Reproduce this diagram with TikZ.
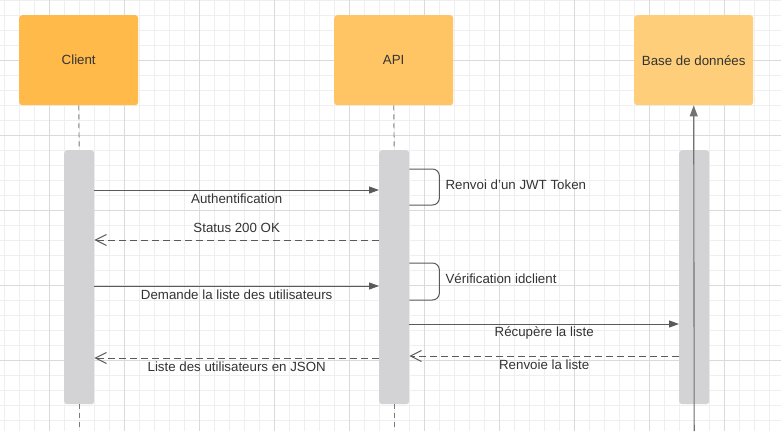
\documentclass[tikz,border=0pt]{standalone}
\usepackage{fontspec}
\setmainfont{Liberation Sans}
\usetikzlibrary{arrows.meta}
\definecolor{gminor}{HTML}{EFEFEF}
\definecolor{gmajor}{HTML}{DADADA}
\definecolor{cclient}{HTML}{FFBA4A}
\definecolor{capi}{HTML}{FFC564}
\definecolor{cdb}{HTML}{FFCE7A}
\definecolor{cbar}{HTML}{D3D3D5}
\definecolor{cline}{HTML}{5A5A5A}
\definecolor{ctext}{HTML}{333333}
\begin{document}
\begin{tikzpicture}[x=1bp,y=-1bp,
  every node/.style={font=\fontsize{13.3bp}{16bp}\selectfont, text=ctext},
  actor/.style={rounded corners=3bp, minimum width=119bp, minimum height=90bp, inner sep=0pt, anchor=north west},
  actbar/.style={fill=cbar, draw=none, rounded corners=3bp, minimum width=30bp, minimum height=254bp, inner sep=0pt, anchor=north west},
  life/.style={draw=cline!80, line width=0.9bp, dash pattern=on 5bp off 4bp},
  msg/.style={draw=cline, line width=1bp, -{Triangle[length=10bp,width=7bp]}},
  reply/.style={draw=cline, line width=1bp, dash pattern=on 7bp off 4bp, -{Straight Barb[length=11bp,width=11bp]}},
  selfloop/.style={draw=cline, line width=1bp, rounded corners=7bp},
  lbl/.style={inner sep=0pt}
]
\useasboundingbox (0,0) rectangle (781,431);
\fill[white] (0,0) rectangle (781,431);
\foreach \x in {4,19,...,781} \draw[gminor, line width=0.6bp] (\x,0) -- (\x,431);
\foreach \y in {0,15,...,431} \draw[gminor, line width=0.6bp] (0,\y) -- (781,\y);
\foreach \x in {49,124,...,781} \draw[gmajor, line width=0.7bp] (\x,0) -- (\x,431);
\foreach \y in {60,135,...,431} \draw[gmajor, line width=0.7bp] (0,\y) -- (781,\y);

\coordinate (bot) at (0,431);

\node[actor, fill=cclient] (client) at (19,15) {Client};
\node[actor, fill=capi] (api) at (334,15) {API};
\node[actor, fill=cdb] (db) at (634,15) {Base de données};

\node[actbar] (cb) at (64,150) {};
\node[actbar] (ab) at (379,150) {};
\node[actbar] (dbb) at (679,150) {};

\draw[life] (client.south) -- (cb.north);
\draw[life] (cb.south) -- (cb.south |- bot);
\draw[life] (api.south) -- (ab.north);
\draw[life] (ab.south) -- (ab.south |- bot);
\draw[draw=cline!85, line width=1.1bp, -{Triangle[length=11bp,width=8bp]}] (dbb.south |- bot) -- (db.south);

% Authentification
\draw[msg] ([yshift=-40bp]cb.north east) -- ([yshift=-40bp]ab.north west)
  node[lbl, midway, yshift=-9bp] (l1) {Authentification};
% Self loop 1
\draw[selfloop] ([yshift=-19bp]ab.north east) -- ++(30,0) -- ++(0,36) -- ([yshift=-55bp]ab.north east);
\node[lbl, anchor=west] (l2) at ([xshift=36bp,yshift=-35bp]ab.north east) {Renvoi d\symbol{39}un JWT Token};
% Status 200 OK
\draw[reply] ([yshift=-90bp]ab.north west) -- ([yshift=-90bp]cb.north east)
  node[lbl, midway, yshift=12bp] (l3) {Status 200 OK};
% Self loop 2
\draw[selfloop] ([yshift=-113bp]ab.north east) -- ++(30,0) -- ++(0,37) -- ([yshift=-150bp]ab.north east);
\node[lbl, anchor=west] (l4) at ([xshift=36bp,yshift=-129bp]ab.north east) {Vérification idclient};
% Demande
\draw[msg] ([yshift=-136bp]cb.north east) -- ([yshift=-136bp]ab.north west)
  node[lbl, midway, yshift=-9bp] (l5) {Demande la liste des utilisateurs};
% Recupere
\draw[msg] ([yshift=-174bp]ab.north east) -- ([yshift=-174bp]dbb.north west)
  node[lbl, midway, yshift=-9bp] (l6) {Récupère la liste};
% Renvoie
\draw[reply] ([yshift=-206bp]dbb.north west) -- ([yshift=-206bp]ab.north east)
  node[lbl, midway, yshift=-9bp] (l7) {Renvoie la liste};
% Liste JSON
\draw[reply] ([yshift=-208bp]ab.north west) -- ([yshift=-208bp]cb.north east)
  node[lbl, midway, yshift=-9bp] (l8) {Liste des utilisateurs en JSON};
\end{tikzpicture}
\end{document}
